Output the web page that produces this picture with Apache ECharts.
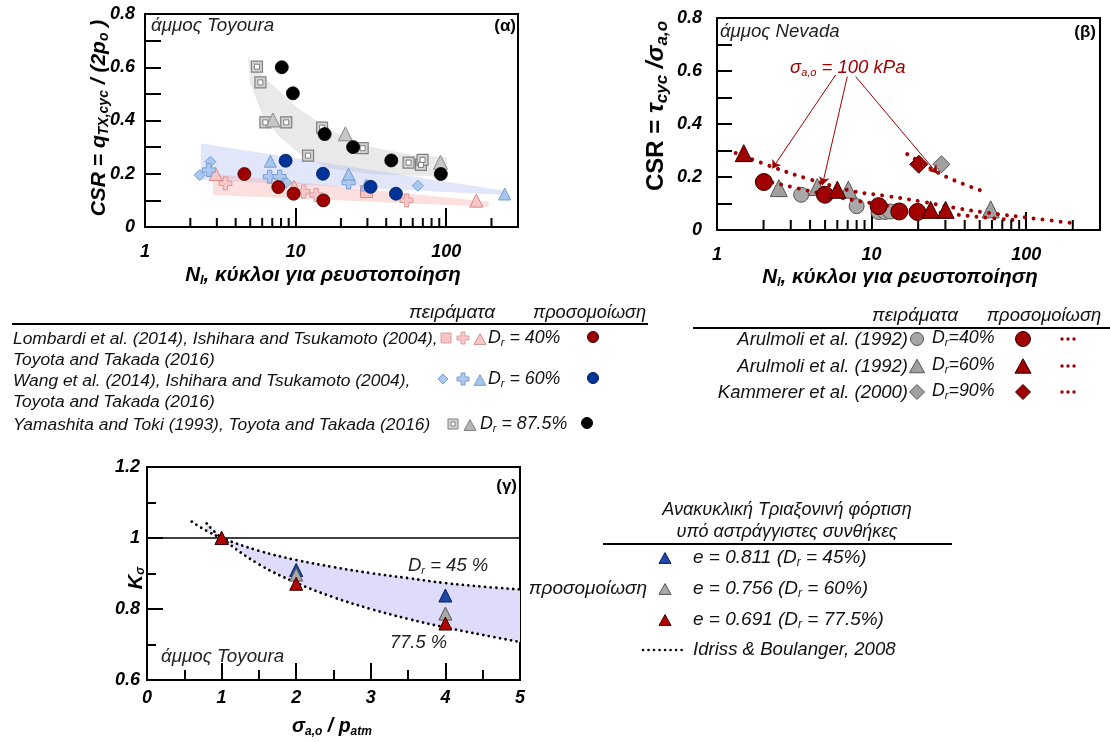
<!DOCTYPE html>
<html><head><meta charset="utf-8">
<script src="https://cdn.jsdelivr.net/npm/echarts@6/dist/echarts.min.js"></script>
<style>html,body{margin:0;padding:0;background:#fff}#c{width:1110px;height:742px}</style>
</head><body><div id="c"></div>
<script>
// ---------------- DATA ----------------
// Panel (α) Toyoura sand: [N cycles, CSR]
const a_pinkSquare = [[29.6,0.133]];
const a_pinkCross  = [[3.42,0.164],[11.3,0.133],[13.7,0.12],[54.6,0.10]];
const a_pinkTri    = [[2.95,0.199],[9.8,0.151],[158.6,0.099]];
const a_blueDiamond= [[2.31,0.195],[2.72,0.245],[8.67,0.167],[64.9,0.155]];
const a_blueCross  = [[2.65,0.214],[6.73,0.189],[7.84,0.189],[22.5,0.167]];
const a_blueTri    = [[6.8,0.247],[22.5,0.199],[29.5,0.158],[245,0.124]];
const a_graySquare = [[5.54,0.602],[5.84,0.543],[6.3,0.393],[8.67,0.393],[15.0,0.373],[12.1,0.268],[27.9,0.296],[56.3,0.242],[68,0.233],[69.7,0.252]];
const a_grayTri    = [[7.07,0.402],[21.4,0.35],[91.7,0.243]];
const a_simRed     = [[4.57,0.199],[7.68,0.15],[9.7,0.125],[15.3,0.10]];
const a_simBlue    = [[8.59,0.249],[15.2,0.2],[31.5,0.151],[46.4,0.125]];
const a_simBlack   = [[8.1,0.6],[9.6,0.502],[15.6,0.349],[24.1,0.30],[43.2,0.25],[92.2,0.199]];
const a_bandGrayUpper = [[4.83,0.64],[6.08,0.565],[10.1,0.452],[16.8,0.364],[30.9,0.302],[59.5,0.27],[101,0.262]];
const a_bandGrayLower = [[5.0,0.54],[6.08,0.414],[7.8,0.339],[11.2,0.264],[16.8,0.22],[30.9,0.199],[101,0.189]];
const a_bandBlueUpper = [[2.35,0.314],[250,0.135]];
const a_bandBlueLower = [[2.35,0.177],[250,0.12]];
const a_bandPinkUpper = [[2.83,0.2],[192,0.095]];
const a_bandPinkLower = [[2.83,0.12],[192,0.076]];

// Panel (β) Nevada sand
const b_expCircle  = [[3.5,0.133],[8.0,0.09],[11.1,0.068],[12.2,0.068],[13.2,0.07]];
const b_expTri     = [[2.51,0.158],[4.45,0.162],[7.07,0.152],[58.9,0.078]];
const b_expDiamond = [[28.3,0.248]];
const b_simCircle  = [[2.01,0.181],[4.99,0.133],[11.1,0.09],[15.1,0.07],[19.8,0.068]];
const b_simTri     = [[1.49,0.29],[6.0,0.152],[24.1,0.076],[30.1,0.076]];
const b_simDiamond = [[20.2,0.248]];
const b_curve60 = [[1.32,0.291],[2.33,0.236],[3.83,0.194],[7.68,0.146],[12.6,0.128],[20.8,0.108],[34.2,0.084],[56.2,0.065],[118,0.042],[194,0.027]];
const b_curve40 = [[2.28,0.179],[3.65,0.152],[6.0,0.124],[9.8,0.102],[20.8,0.074],[34.2,0.059],[56.2,0.046],[91.8,0.036]];
const b_curve90 = [[17.0,0.286],[25.3,0.225],[34.2,0.1875],[52.0,0.147]];
// arrows from the "σa,o = 100 kPa" label: [from, to]
const b_arrows = [[[5.85,0.585],[2.28,0.232]],[[6.96,0.579],[4.8,0.169]],[[7.88,0.579],[26.6,0.213]]];

// Panel (γ) K_sigma
const g_blue = [[1,1.0],[2,0.91],[4,0.838]];
const g_gray = [[1,1.0],[2,0.897],[4,0.787]];
const g_red  = [[1,1.0],[2,0.871],[4,0.759]];
const g_curve45  = [[0.6,1.046],[0.8,1.02],[1,1.0],[1.5,0.964],[2,0.938],[2.5,0.918],[3,0.901],[3.5,0.887],[4,0.873],[4.5,0.863],[5,0.855]];
const g_curve775 = [[0.8,1.041],[1,1.0],[1.5,0.926],[2,0.874],[2.5,0.833],[3,0.80],[3.5,0.772],[4,0.748],[4.5,0.727],[5,0.707]];

// tick values
const logMajorLabels = [1,10,100];
const logMinorTicks = [2,3,4,5,6,7,8,9,20,30,40,50,60,70,80,90,200];

// ---------------- HELPERS ----------------
const FF = '"Liberation Sans", Arial, sans-serif';
const DR = '#a00000';
const tickFont = {fontFamily:FF,fontSize:18,fontWeight:'bold',fontStyle:'italic',color:'#000'};
const axLine = {show:true,lineStyle:{color:'#000',width:2}};

function T(x,y,text,o){
  o=o||{};
  const size=o.size||16, w=o.bold?'bold':'normal', st=o.italic===false?'normal':'italic', col=o.color||'#111';
  const base={fontFamily:FF,fontSize:size,fontWeight:w,fontStyle:st,fill:col};
  const sub=Object.assign({},base,{fontSize:Math.round(size*(o.subScale||0.62)),padding:[Math.round(size*0.5),0,0,0]});
  const up=Object.assign({},base,{fontStyle:'normal'});
  return {type:'text',x:x,y:y,rotation:o.rot||0,z:100,silent:true,
    style:Object.assign({text:text,align:o.align||'left',verticalAlign:'middle',rich:{n:base,s:sub,u:up}},base)};
}
function gCirc(cx,cy,r,fill,stroke){return {type:'circle',z:100,silent:true,shape:{cx:cx,cy:cy,r:r},style:{fill:fill,stroke:stroke||null,lineWidth:1}};}
function gPoly(pts,fill,stroke){return {type:'polygon',z:100,silent:true,shape:{points:pts},style:{fill:fill,stroke:stroke||null,lineWidth:1}};}
function gTri(cx,cy,s,fill,stroke){const h=s*0.9;return gPoly([[cx,cy-h/2],[cx+s/2,cy+h/2],[cx-s/2,cy+h/2]],fill,stroke);}
function gDia(cx,cy,s,fill,stroke){return gPoly([[cx,cy-s/2],[cx+s/2,cy],[cx,cy+s/2],[cx-s/2,cy]],fill,stroke);}
function gRect(cx,cy,s,fill,stroke){return {type:'rect',z:100,silent:true,shape:{x:cx-s/2,y:cy-s/2,width:s,height:s},style:{fill:fill,stroke:stroke||null,lineWidth:1}};}
function gCross(cx,cy,s,fill,stroke){const a=s/2,b=s/6;return gPoly([[cx-b,cy-a],[cx+b,cy-a],[cx+b,cy-b],[cx+a,cy-b],[cx+a,cy+b],[cx+b,cy+b],[cx+b,cy+a],[cx-b,cy+a],[cx-b,cy+b],[cx-a,cy+b],[cx-a,cy-b],[cx-b,cy-b]],fill,stroke);}
function gLine(x1,y1,x2,y2,w,color,dash){return {type:'line',z:100,silent:true,shape:{x1:x1,y1:y1,x2:x2,y2:y2},style:{stroke:color||'#000',lineWidth:w||1,lineDash:dash||null,lineCap:dash?'round':'butt'}};}

const CROSS = 'path://M2,0H4V2H6V4H4V6H2V4H0V2H2Z';

function sc(xi,data,symbol,size,fill,stroke,bw,z){
  return {type:'scatter',xAxisIndex:xi,yAxisIndex:xi,data:data,symbol:symbol,symbolSize:size,z:z||3,silent:true,
    itemStyle:{color:fill,borderColor:stroke,borderWidth:bw==null?1:bw,opacity:1},emphasis:{disabled:true}};
}
function band(xi,upper,lower,color){
  return {type:'custom',xAxisIndex:xi,yAxisIndex:xi,silent:true,z:1,data:[upper[0]],
    renderItem:function(p,api){
      const pts=upper.concat(lower.slice().reverse()).map(function(d){return api.coord(d);});
      return {type:'polygon',shape:{points:pts},style:{fill:color}};
    }};
}
function minorTicks(xi,len){
  return {type:'custom',xAxisIndex:xi,yAxisIndex:xi,silent:true,z:5,data:logMinorTicks.map(function(v){return [v,0];}),
    renderItem:function(p,api){
      const q=api.coord([api.value(0),api.value(1)]);
      return {type:'line',shape:{x1:q[0],y1:q[1],x2:q[0],y2:q[1]-len},style:{stroke:'#000',lineWidth:2}};
    }};
}
function curve(xi,data,color,w,dash){
  return {type:'line',xAxisIndex:xi,yAxisIndex:xi,data:data,smooth:0.4,showSymbol:false,symbol:'none',silent:true,z:2,
    lineStyle:{color:color,width:w,type:dash,cap:'round'}};
}
function logLabel(v){
  const l=Math.log10(v);
  if(Math.abs(l-Math.round(l))<1e-6 && v<=100.0001 && logMajorLabels.indexOf(Math.round(v))>=0) return String(Math.round(v));
  return '';
}
function evenLabel(v){
  return (Math.round(v*10)%2===0) ? String(+v.toFixed(1)) : '';
}

// ---------------- OPTION ----------------
const option = {
  animation:false,
  backgroundColor:'#fff',
  grid:[
    {left:145,top:14,width:373,height:213,show:true,borderColor:'#000',borderWidth:2},
    {left:717,top:18,width:383,height:212,show:true,borderColor:'#000',borderWidth:2},
    {left:147,top:467,width:373,height:213,show:true,borderColor:'#000',borderWidth:2}
  ],
  xAxis:[
    {gridIndex:0,type:'log',logBase:10,min:1,max:300,axisLine:axLine,
     axisTick:{show:true,inside:true,length:19,lineStyle:{color:'#000',width:2}},
     axisLabel:Object.assign({margin:16,formatter:logLabel,showMaxLabel:false},tickFont),splitLine:{show:false},minorTick:{show:false}},
    {gridIndex:1,type:'log',logBase:10,min:1,max:300,axisLine:axLine,
     axisTick:{show:true,inside:true,length:18,lineStyle:{color:'#000',width:2}},
     axisLabel:Object.assign({margin:16,formatter:logLabel,showMaxLabel:false},tickFont),splitLine:{show:false},minorTick:{show:false}},
    {gridIndex:2,type:'value',min:0,max:5,interval:1,axisLine:axLine,
     axisTick:{show:true,inside:true,length:17,lineStyle:{color:'#000',width:2}},
     minorTick:{show:true,splitNumber:2,length:10,lineStyle:{color:'#000',width:2}},
     axisLabel:Object.assign({margin:9},tickFont),splitLine:{show:false},minorSplitLine:{show:false}}
  ],
  yAxis:[
    {gridIndex:0,type:'value',min:0,max:0.8,interval:0.1,axisLine:axLine,
     axisTick:{show:true,inside:true,length:16,lineStyle:{color:'#000',width:2}},
     axisLabel:Object.assign({margin:10,formatter:evenLabel},tickFont),splitLine:{show:false}},
    {gridIndex:1,type:'value',min:0,max:0.8,interval:0.1,axisLine:axLine,
     axisTick:{show:true,inside:true,length:15,lineStyle:{color:'#000',width:2}},
     axisLabel:Object.assign({margin:15,formatter:evenLabel},tickFont),splitLine:{show:false}},
    {gridIndex:2,type:'value',min:0.6,max:1.2,interval:0.2,axisLine:axLine,
     axisTick:{show:true,inside:true,length:16,lineStyle:{color:'#000',width:2}},
     minorTick:{show:true,splitNumber:2,length:9,lineStyle:{color:'#000',width:2}},
     axisLabel:Object.assign({margin:7,formatter:function(v){return String(+v.toFixed(1));}},tickFont),splitLine:{show:false},minorSplitLine:{show:false}}
  ],
  series:[
    // ----- α -----
    band(0,a_bandGrayUpper,a_bandGrayLower,'rgba(215,215,215,0.55)'),
    band(0,a_bandBlueUpper,a_bandBlueLower,'rgba(175,188,245,0.38)'),
    band(0,a_bandPinkUpper,a_bandPinkLower,'rgba(248,170,170,0.38)'),
    minorTicks(0,9),
    sc(0,a_pinkSquare,'rect',12,'#f7c4c4','#d88c8c'),
    sc(0,a_pinkCross,CROSS,13,'#f8c8c8','#dc9a9a'),
    sc(0,a_pinkTri,'triangle',13,'#f8c6c6','#d08c8c'),
    sc(0,a_blueDiamond,'diamond',11,'#a9c8f0','#7a9fd4'),
    sc(0,a_blueCross,CROSS,13,'#adc9ef','#7a9ed2'),
    sc(0,a_blueTri,'triangle',12,'#a7c6ee','#7a9ed2'),
    sc(0,a_graySquare,'rect',11,'#d2d2d2','#808080',1.2),
    sc(0,a_graySquare,'rect',5,'#ffffff','#808080',1,4),
    sc(0,a_grayTri,'triangle',14,'#c6c6c6','#8a8a8a'),
    sc(0,a_simRed,'circle',13,'#9e0000','#3a0000',0.8,6),
    sc(0,a_simBlue,'circle',13,'#00339a','#001a4d',0.8,6),
    sc(0,a_simBlack,'circle',13,'#000000','#000000',0.8,6),
    // ----- β -----
    minorTicks(1,10),
    sc(1,b_expCircle,'circle',15,'#a8a8a8','#555',1),
    sc(1,b_expTri,'triangle',17,'#a0a0a0','#555',1),
    sc(1,b_expDiamond,'diamond',17,'#a0a0a0','#555',1),
    Object.assign(curve(1,b_curve60,DR,4,[0.01,9]),{z:4}),
    Object.assign(curve(1,b_curve40,DR,4,[0.01,9]),{z:4}),
    Object.assign(curve(1,b_curve90,DR,4,[0.01,9]),{z:4}),
    sc(1,b_simCircle,'circle',17,'#a00000','#300',1,6),
    Object.assign(sc(1,b_simTri,'triangle',17,'#a00000','#300',1,6),{
      markLine:{silent:true,symbol:['none','arrow'],symbolSize:8,animation:false,label:{show:false},
        lineStyle:{color:DR,width:1,type:'solid'},emphasis:{disabled:true},
        data:b_arrows.map(function(a){return [{coord:a[0]},{coord:a[1]}];})}
    }),
    sc(1,b_simDiamond,'diamond',18,'#a00000','#300',1,6),
    // ----- γ -----
    {type:'custom',xAxisIndex:2,yAxisIndex:2,silent:true,z:1,data:[g_curve775[0]],
     renderItem:function(p,api){
       const up=g_curve45.filter(function(d){return d[0]>=0.8;});
       const pts=up.concat(g_curve775.slice().reverse()).map(function(d){return api.coord(d);});
       return {type:'polygon',shape:{points:pts},style:{fill:'#dedcfa'}};
     }},
    curve(2,g_curve45,'#000',2.8,[0.01,5.6]),
    curve(2,g_curve775,'#000',2.8,[0.01,5.6]),
    sc(2,g_blue,'triangle',13,'#1f47a6','#0a1f5a',1,4),
    sc(2,g_gray,'triangle',13,'#a8a8a8','#555',1,5),
    Object.assign(sc(2,g_red,'triangle',13,'#b00000','#400',1,6),{
      markLine:{silent:true,symbol:['none','none'],animation:false,label:{show:false},
        lineStyle:{color:'#000',width:1.5,type:'solid'},emphasis:{disabled:true},data:[{yAxis:1}]}
    })
  ],
  graphic:[]
};

const G = option.graphic;
// axis titles
G.push(T(99,118,'{n|CSR = q}{s|TX,cyc}{n| / (2p}{s|o}{n| )}',{size:21,bold:true,rot:Math.PI/2,align:'center',color:'#000',subScale:0.66}));
G.push(T(323,275,'{n|N}{s|l}{n|, κύκλοι για ρευστοποίηση}',{size:20.5,bold:true,align:'center',color:'#000'}));
G.push(T(656,106,'{u|CSR = }{n|τ}{s|cyc}{n| /σ}{s|a,o}',{size:24,bold:true,rot:Math.PI/2,align:'center',color:'#000',subScale:0.7}));
G.push(T(900,277,'{n|N}{s|l}{n|, κύκλοι για ρευστοποίηση}',{size:20.5,bold:true,align:'center',color:'#000'}));
G.push(T(332,727,'{n|σ}{s|a,o}{n| / p}{s|atm}',{size:19.5,bold:true,align:'center',color:'#000'}));
G.push(T(136,578,'{n|K}{s|σ}',{size:20,bold:true,rot:Math.PI/2,align:'center',color:'#000'}));
// in-plot texts
G.push(T(151,26,'άμμος Toyoura',{size:18.8,color:'#222'}));
G.push(T(516,26,'(α)',{size:17,bold:true,italic:false,align:'right',color:'#000'}));
G.push(T(720,32,'άμμος Nevada',{size:18.6,color:'#222'}));
G.push(T(1096,32,'(β)',{size:17,bold:true,italic:false,align:'right',color:'#000'}));
G.push(T(790,68,'{n|σ}{s|a,o}{n| = 100 kPa}',{size:18.5,color:DR}));
G.push(T(517,486,'(γ)',{size:17,bold:true,italic:false,align:'right',color:'#000'}));
G.push(T(161,657,'άμμος Toyoura',{size:18.8,color:'#222'}));
G.push(T(408,566,'{n|D}{s|r}{n| = 45 %}',{size:18.5,color:'#222'}));
G.push(T(390,643,'77.5 %',{size:18.3,color:'#222'}));

// legend α
G.push(T(452,313,'πειράματα',{size:19,align:'center'}));
G.push(T(533,313,'προσομοίωση',{size:18.2}));
G.push(gLine(12,324,648,324,2,'#000'));
G.push(T(13,339,'Lombardi et al. (2014), Ishihara and Tsukamoto (2004),',{size:17.4}));
G.push(T(13,360,'Toyota and Takada (2016)',{size:17.4}));
G.push(T(13,381,'Wang et al. (2014), Ishihara and Tsukamoto (2004),',{size:17.4}));
G.push(T(13,402,'Toyota and Takada (2016)',{size:17.4}));
G.push(T(13,425,'Yamashita and Toki (1993), Toyota and Takada (2016)',{size:17.4}));
G.push(gRect(446,338,10,'#f7c4c4','#dba0a0'));
G.push(gCross(463,338,12,'#f8c8c8','#dca0a0'));
G.push(gTri(480,339,12,'#f8c6c6','#d49494'));
G.push(T(488,338,'{n|D}{s|r}{n| = 40%}',{size:17.8}));
G.push(gCirc(593,337,5.5,'#9e0000','#300'));
G.push(gDia(443,379,10,'#a9c8f0','#7a9fd4'));
G.push(gCross(463,379,12,'#adc9ef','#7a9ed2'));
G.push(gTri(480,380,12,'#a7c6ee','#7a9ed2'));
G.push(T(488,379,'{n|D}{s|r}{n| = 60%}',{size:17.8}));
G.push(gCirc(593,378,5.5,'#00339a','#001a4d'));
G.push(gRect(453,424,10,'#d2d2d2','#808080'));
G.push(gRect(453,424,4,'#ffffff','#808080'));
G.push(gTri(470,425,12,'#b4b4b4','#808080'));
G.push(T(480,424,'{n|D}{s|r}{n| = 87.5%}',{size:17.8}));
G.push(gCirc(587,423,5.5,'#000','#000'));

// legend β
G.push(T(915,316,'πειράματα',{size:19,align:'center'}));
G.push(T(1044,316,'προσομοίωση',{size:18.4,align:'center'}));
G.push(gLine(693,328,1110,328,2,'#000'));
const bRows=[['Arulmoli et al. (1992)','=40%',340],['Arulmoli et al. (1992)','=60%',367],['Kammerer et al. (2000)','=90%',393]];
bRows.forEach(function(r,i){
  G.push(T(908,r[2],r[0],{size:18.5,align:'right'}));
  G.push(T(932,r[2]-2,'{n|D}{s|r}{n|'+r[1]+'}',{size:17.8}));
  if(i===0){G.push(gCirc(917,r[2]-1,6.5,'#a6a6a6','#555'));G.push(gCirc(1023,r[2]-1,7.5,'#a00000','#300'));}
  if(i===1){G.push(gTri(917,r[2]-1,15,'#a0a0a0','#555'));G.push(gTri(1023,r[2]-1,16,'#a00000','#300'));}
  if(i===2){G.push(gDia(917,r[2]-1,15,'#a0a0a0','#555'));G.push(gDia(1023,r[2]-1,15,'#a00000','#300'));}
  [1062,1068,1074].forEach(function(x){G.push(gCirc(x,r[2]-1,1.7,DR,null));});
});

// legend γ
G.push(T(787,510,'Ανακυκλική Τριαξονινή φόρτιση',{size:18,align:'center'}));
G.push(T(787,532,'υπό αστράγγιστες συνθήκες',{size:18,align:'center'}));
G.push(gLine(603,544,952,544,2,'#000'));
G.push(gTri(665,558,12,'#1f47a6','#0a1f5a'));
G.push(T(693,558,'{n|e = 0.811 (D}{s|r}{n| = 45%)}',{size:19}));
G.push(gTri(665,589,12,'#a8a8a8','#555'));
G.push(T(693,589,'{n|e = 0.756 (D}{s|r}{n| = 60%)}',{size:19}));
G.push(T(647,589,'προσομοίωση',{size:19,align:'right'}));
G.push(gTri(665,620,12,'#b00000','#400'));
G.push(T(693,620,'{n|e = 0.691 (D}{s|r}{n| = 77.5%)}',{size:19}));
G.push(gLine(643,650,685,650,2.6,'#000',[0.01,5.5]));
G.push(T(693,650,'Idriss & Boulanger, 2008',{size:18.6}));

const chart = echarts.init(document.getElementById('c'),null,{renderer:'canvas'});
chart.setOption(option);
</script></body></html>
